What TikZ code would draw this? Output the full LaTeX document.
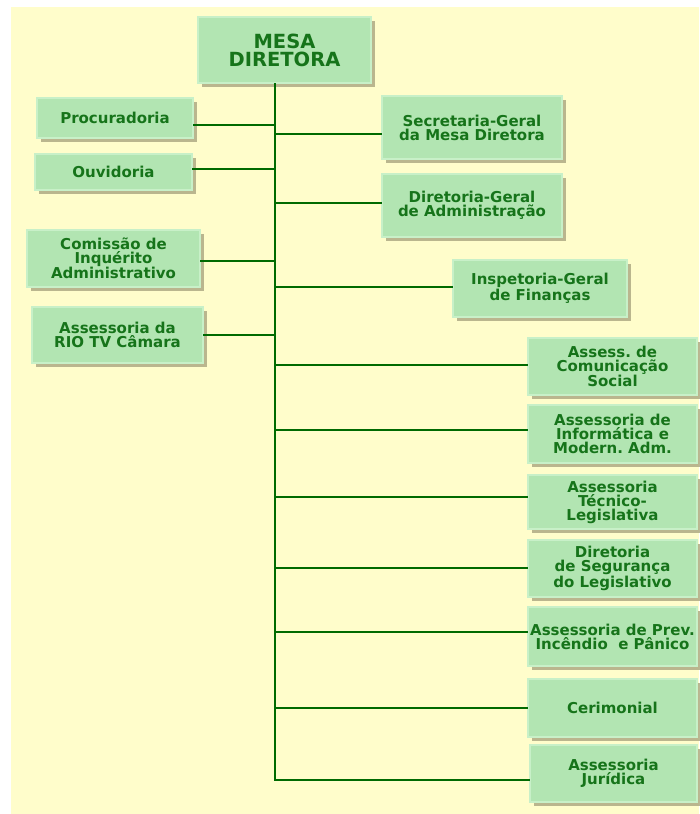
\documentclass[tikz,border=0pt]{standalone}
\usepackage{fontspec}
\setmainfont{DejaVu Sans}
\usetikzlibrary{shadows}
\definecolor{bgyellow}{HTML}{FFFDCB}
\definecolor{boxfill}{HTML}{B2E5B2}
\definecolor{boxedge}{HTML}{98D498}
\definecolor{boxlight}{HTML}{C8F0C8}
\definecolor{shadowcol}{HTML}{B3AF88}
\definecolor{txtgreen}{HTML}{16741A}
\definecolor{linegreen}{HTML}{006A00}
\tikzset{
  orgbox/.style={rectangle, fill=boxfill, draw=boxedge, double=boxlight, double distance=1.1pt, line width=0.7pt,
    text=txtgreen, align=center, inner sep=0pt,
    font=\frenchspacing\bfseries\fontsize{15}{14}\selectfont,
    drop shadow={shadow xshift=4pt, shadow yshift=-4pt, fill=shadowcol, opacity=0.9}},
  bigbox/.style={orgbox, font=\bfseries\fontsize{19.5}{18}\selectfont},
  conn/.style={draw=linegreen, line width=2.8pt},
}
\begin{document}
\begin{tikzpicture}[x=1pt,y=-1pt]
\useasboundingbox (0,0) rectangle (699,814);
\fill[white] (0,0) rectangle (699,814);
\fill[bgyellow] (11,7) rectangle (699,814);
% boxes
\node[bigbox, minimum width=173pt, minimum height=66pt] (mesa) at (284.5,50) {MESA\\DIRETORA};
\node[orgbox, minimum width=156pt, minimum height=40pt] (proc) at (115,118) {Procuradoria};
\node[orgbox, minimum width=157pt, minimum height=36pt] (ouv) at (113.5,172) {Ouvidoria};
\node[orgbox, minimum width=180pt, minimum height=63pt] (secr) at (472,127.5) {Secretaria-Geral\\da Mesa Diretora};
\node[orgbox, minimum width=180pt, minimum height=63pt] (dirg) at (472,205.5) {Diretoria-Geral\\de Administração};
\node[orgbox, minimum width=174pt, minimum height=57pt] (insp) at (540,288.5) {Inspetoria-Geral\\de Finanças};
\node[orgbox, minimum width=173pt, minimum height=57pt] (com) at (113.5,258.5) {Comissão de\\Inquérito\\Administrativo};
\node[orgbox, minimum width=171pt, minimum height=56pt] (rio) at (117.5,335) {Assessoria da\\RIO TV Câmara};
\node[orgbox, minimum width=169pt, minimum height=57pt] (acs) at (612.5,366.5) {Assess. de\\Comunicação\\Social};
\node[orgbox, minimum width=169pt, minimum height=58pt] (inf) at (612.5,434) {Assessoria de\\Informática e\\Modern. Adm.};
\node[orgbox, minimum width=169pt, minimum height=54pt] (tec) at (612.5,502) {Assessoria\\Técnico-\\Legislativa};
\node[orgbox, minimum width=169pt, minimum height=57pt] (seg) at (612.5,568.5) {Diretoria\\de Segurança\\do Legislativo};
\node[orgbox, minimum width=169pt, minimum height=59pt] (prev) at (612.5,636.5) {Assessoria de Prev.\\Incêndio\ \ e Pânico};
\node[orgbox, minimum width=169pt, minimum height=58pt] (cer) at (612.5,708) {Cerimonial};
\node[orgbox, minimum width=167pt, minimum height=57pt] (jur) at (613.5,773.5) {Assessoria\\Jurídica};
% trunk coordinates
\coordinate (top) at (275,83);
\coordinate (t1) at (275,125);
\coordinate (t2) at (275,134);
\coordinate (t3) at (275,169);
\coordinate (t4) at (275,203);
\coordinate (t5) at (275,261);
\coordinate (t6) at (275,287);
\coordinate (t7) at (275,335);
\coordinate (t8) at (275,365);
\coordinate (t9) at (275,430);
\coordinate (t10) at (275,497);
\coordinate (t11) at (275,568);
\coordinate (t12) at (275,632);
\coordinate (t13) at (275,708);
\coordinate (t14) at (275,780);
\draw[conn] (top) -- ([yshift=-1.4pt]t14);
\draw[conn] (t1) -- (proc.east |- t1);
\draw[conn] (t2) -- (secr.west |- t2);
\draw[conn] (t3) -- (ouv.east |- t3);
\draw[conn] (t4) -- (dirg.west |- t4);
\draw[conn] (t5) -- (com.east |- t5);
\draw[conn] (t6) -- (insp.west |- t6);
\draw[conn] (t7) -- (rio.east |- t7);
\draw[conn] (t8) -- (acs.west |- t8);
\draw[conn] (t9) -- (inf.west |- t9);
\draw[conn] (t10) -- (tec.west |- t10);
\draw[conn] (t11) -- (seg.west |- t11);
\draw[conn] (t12) -- (prev.west |- t12);
\draw[conn] (t13) -- (cer.west |- t13);
\draw[conn] (t14) -- (jur.west |- t14);
\end{tikzpicture}
\end{document}
